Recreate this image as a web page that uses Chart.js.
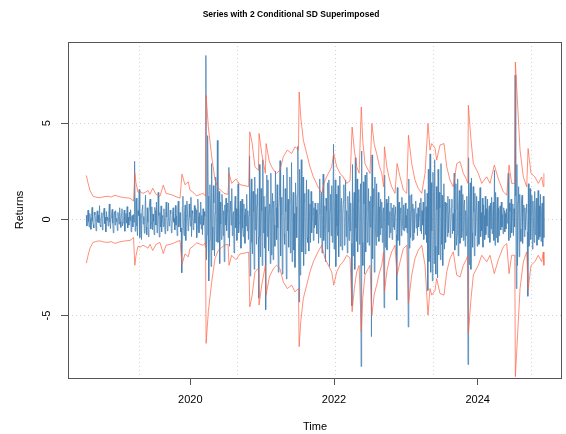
<!DOCTYPE html>
<html><head><meta charset="utf-8">
<script src="https://cdn.jsdelivr.net/npm/chart.js@4.4.1/dist/chart.umd.min.js"></script>
<style>html,body{margin:0;padding:0;background:#fff;}#wrap{width:566px;height:434px;}</style>
</head><body><div id="wrap"><canvas id="c" width="566" height="434"></canvas></div>
<script>
// ---- data ----
const chartTitle = 'Series with 2 Conditional SD Superimposed';
const xTitle = 'Time';
const yTitle = 'Returns';
const xTicks = [2020, 2022, 2024];
const yTicks = [-5, 0, 5];
const vGridYears = [2019.290, 2020.654, 2022.018, 2023.382, 2024.746];

// return series (sampled), evenly spaced in time from start to end
const returnsStart = 2018.553;
const returnsEnd = 2024.921;
const returns = [
 0.21,-0.35,0.10,0.48,-0.12,-0.40,0.30,0.05,-0.52,0.15,
 0.62,-0.08,-0.28,-0.45,0.38,0.22,0.05,-0.60,0.18,0.44,
 -0.15,0.22,-0.18,0.71,-0.30,-0.40,0.10,0.35,-0.55,0.02,
 0.33,0.58,-0.22,0.12,-0.66,0.40,-0.05,0.12,-0.35,0.26,
 0.80,-0.15,-0.48,0.08,0.27,0.52,-0.20,-0.70,0.18,0.40,
 -0.30,0.45,-0.12,0.05,-0.58,0.36,0.14,-0.25,0.60,-0.10,
 -0.42,0.28,0.55,-0.35,-0.18,0.20,0.48,-0.62,0.08,0.30,
 -0.20,0.66,-0.45,0.12,-0.30,0.38,-0.08,0.50,-0.65,0.15,
 0.20,-0.40,0.25,-0.15,
 3.02,
 -0.62,0.90,1.10,-0.35,-0.85,0.45,0.20,1.55,-0.95,0.10,
 0.30,-1.05,0.55,0.75,-0.25,0.15,-0.72,0.40,1.25,-0.40,
 -0.80,0.60,-0.15,-0.90,0.35,0.85,1.05,-0.50,-0.20,0.65,
 -0.55,0.28,-0.10,-0.80,0.62,0.45,-0.30,0.90,-0.70,-0.48,
 1.40,0.20,-0.92,0.35,-0.40,0.70,-0.65,0.15,0.20,-0.38,
 0.55,-0.12,-0.75,0.42,0.90,0.12,-0.60,-0.25,0.85,-0.35,
 -0.25,0.48,0.30,-0.70,-0.45,0.22,0.60,-0.15,0.05,-0.55,
 0.72,-0.30,0.18,-0.85,0.50,0.95,-0.40,-0.10,0.35,-0.65,
 -0.45,
 -2.78,
 0.65,1.20,-0.30,-0.85,0.40,0.75,-1.10,0.20,0.95,0.25,
 -0.60,-0.35,0.80,0.10,-0.35,1.15,-0.90,0.45,0.30,-0.55,
 -0.15,0.72,-0.20,0.60,0.48,-0.95,-0.40,1.05,0.15,-0.70,
 0.35,-0.25,0.90,-0.50,0.20,-0.80,0.55,-0.30,0.40,0.15,
 -1.45,
 8.52,
 -2.10,-0.80,4.35,1.20,-3.20,-1.10,1.80,0.60,-2.45,2.90,
 -0.40,-1.60,1.75,0.85,-1.90,0.30,2.20,-1.15,-0.50,
 4.10,
 -1.20,0.35,1.45,-2.30,0.90,-0.25,-1.05,1.30,0.60,-0.85,
 0.45,-2.20,0.75,-0.30,1.10,-0.60,0.40,0.85,-0.95,
 2.70,
 -1.40,0.50,0.95,-0.30,1.60,-0.85,0.20,0.40,-1.75,0.65,
 1.20,-0.45,0.55,-1.10,0.15,1.85,-0.70,-0.20,0.30,0.95,
 -1.50,0.60,1.05,-0.45,-0.90,0.80,0.25,-1.25,0.55,-0.35,
 1.30,-0.60,0.45,-1.05,0.20,
 3.30,
 -2.95,0.80,2.10,-1.20,-1.80,1.45,0.40,-2.60,2.20,-0.55,1.30,-1.30,0.70,1.60,-0.90,
 -4.10,
 2.85,-0.90,-1.95,1.60,0.45,-2.40,3.10,-0.70,1.20,-1.50,0.65,
 -4.70,
 1.25,2.30,-0.90,2.05,-1.65,0.35,0.80,-2.30,2.40,-1.85,
 0.50,1.35,-2.10,0.95,-0.30,-1.40,2.50,0.60,-1.05,1.80,
 -0.45,-2.75,0.60,1.20,3.05,-1.90,0.25,1.15,-2.85,0.70,
 2.30,-0.75,-1.30,1.60,0.40,-3.10,2.70,-0.60,1.05,-1.45,
 0.85,2.20,-1.75,-0.40,2.95,-2.20,0.55,1.40,-1.60,0.30,
 -2.50,1.90,0.65,-0.95,1.25,
 3.80,-1.20,-4.30,
 2.60,-2.90,1.20,3.10,-1.70,-0.60,2.20,-2.40,0.90,1.35,
 -1.80,0.40,2.05,-0.95,-1.20,1.55,-1.65,0.30,0.80,-1.20,
 1.45,-0.70,0.25,0.95,-1.10,0.60,-0.45,0.85,-0.30,0.50,
 -0.75,0.40,0.85,-1.25,0.30,2.10,-0.95,0.55,1.40,-1.75,
 0.20,2.35,-1.10,-0.40,0.70,-2.20,1.10,0.45,-1.55,1.90,
 -0.65,2.05,-2.45,0.50,1.30,-0.85,1.75,-1.20,0.35,
 3.90,
 -1.55,0.60,2.05,-2.45,1.30,-0.35,-0.85,1.75,-1.95,0.40,
 2.25,-1.40,0.75,1.10,-1.60,0.25,0.95,1.80,-1.35,-0.50,
 2.05,-0.90,0.45,-1.75,1.20,0.30,-1.10,1.45,-0.60,0.85,
 -1.25,
 -4.50,
 2.85,-1.90,0.60,1.40,-2.60,3.20,-0.45,-1.15,2.10,-1.70,0.90,1.55,-1.30,0.40,1.85,
 -7.65,
 3.55,-1.20,-2.40,1.95,0.80,-2.85,2.30,-1.70,0.45,2.45,-1.20,-0.60,1.60,-1.35,0.95,-0.40,1.20,
 -6.10,
 3.35,-2.05,0.70,1.60,-2.75,2.20,-0.50,-1.35,1.85,-0.90,0.30,1.40,-1.15,0.65,-0.80,1.05,-0.45,0.90,-1.20,0.35,0.60,
 -4.60,
 2.30,-1.45,0.50,1.05,-1.60,0.85,-0.30,1.20,-0.95,0.40,-0.70,0.85,0.15,-1.05,0.60,-0.40,0.75,-0.55,0.30,0.65,-0.80,
 -4.20,
 1.65,-1.10,0.55,0.90,-1.35,0.35,0.60,-0.85,1.15,-0.20,-0.55,0.75,-0.60,0.40,0.85,-0.45,0.20,-0.70,0.55,
 -5.60,
 2.10,-1.50,1.25,-0.95,0.40,1.30,-1.10,0.80,-1.05,0.55,
 -0.70,0.60,0.95,-0.45,0.30,-0.85,0.60,-0.40,0.20,0.85,
 -0.60,1.10,-0.75,0.45,-0.30,0.90,-1.05,0.55,1.55,-0.80,
 0.65,-1.20,1.35,
 -3.70,
 2.60,-2.20,0.80,3.40,-2.75,1.90,-0.60,-3.20,2.45,1.10,
 -2.30,3.10,-1.40,-2.85,1.70,0.50,-3.05,2.60,-1.85,1.40,
 0.60,-2.10,2.90,-1.30,1.25,-2.40,0.75,1.85,-1.55,0.90,
 -1.20,0.45,0.85,-0.90,1.20,-0.70,0.35,1.05,-0.95,-0.40,
 0.60,1.05,-0.75,0.30,-0.60,2.40,-1.60,0.50,1.85,-1.35,
 -0.80,2.10,-1.90,0.65,1.50,-1.25,0.40,1.75,-0.95,-0.55,
 1.30,-1.10,0.70,1.00,-1.40,0.45,-0.85,1.20,-0.30,
 -7.55,
 3.20,-2.35,0.90,1.90,-2.60,2.15,-0.70,-1.45,1.70,0.40,
 -1.90,1.35,-0.85,0.55,1.20,-1.40,0.25,0.95,-1.30,0.60,
 1.65,-0.90,0.35,-0.60,1.10,-1.45,0.75,0.20,-1.05,1.20,
 -0.80,0.55,-0.35,1.05,-0.95,0.40,0.70,-1.20,0.85,-0.50,
 1.15,-0.75,0.30,0.90,-1.10,
 2.55,
 -1.35,1.40,-0.95,0.35,1.15,-1.20,0.60,-0.85,0.45,0.70,
 -0.55,0.90,-0.40,0.25,-0.75,0.60,0.45,-0.65,0.30,-0.50,
 0.55,-0.20,0.40,
 2.40,
 -1.10,0.85,0.40,-0.95,1.05,-0.70,0.30,0.80,-0.85,0.55,-0.40,
 7.50,1.20,-3.60,
 2.85,-2.40,0.90,1.70,-1.95,1.30,-0.50,-1.15,0.90,1.25,-1.25,0.45,0.75,-0.90,0.60,-0.55,0.35,0.80,-0.65,
 -4.00,
 1.85,-1.40,0.60,1.60,-1.05,0.35,1.25,-1.55,0.95,-0.30,
 -1.20,1.45,-0.80,0.50,1.10,-1.35,0.25,1.50,-1.05,0.70,
 -0.90,1.30,-1.15,0.45,0.85,-1.40,1.20,-0.95
];

// 2 x conditional SD (band is drawn at +/- this value)
const sdYears = [
 2018.553,2018.576,2018.604,2018.646,2018.700,2018.743,2018.800,2018.855,2018.900,2018.952,
 2019.000,2019.049,2019.100,2019.161,2019.210,2019.228,2019.244,2019.272,2019.300,2019.342,
 2019.380,2019.411,2019.439,2019.477,2019.523,2019.578,2019.624,2019.662,2019.717,2019.760,
 2019.787,2019.857,2019.884,2019.926,2019.972,2019.996,2020.040,2020.089,2020.140,2020.181,
 2020.212,2020.220,2020.251,2020.298,2020.344,2020.390,2020.430,2020.469,2020.525,2020.539,
 2020.576,2020.636,2020.692,2020.761,2020.812,2020.828,2020.859,2020.900,2020.948,2020.957,
 2020.994,2021.045,2021.055,2021.100,2021.133,2021.170,2021.202,2021.248,2021.294,2021.350,
 2021.411,2021.457,2021.505,2021.515,2021.537,2021.573,2021.620,2021.666,2021.712,2021.777,
 2021.829,2021.875,2021.921,2021.968,2021.996,2022.038,2022.084,2022.129,2022.177,2022.223,
 2022.252,2022.283,2022.316,2022.350,2022.380,2022.400,2022.431,2022.470,2022.501,2022.527,
 2022.560,2022.594,2022.630,2022.664,2022.692,2022.702,2022.735,2022.770,2022.803,2022.849,
 2022.878,2022.919,2022.965,2023.012,2023.036,2023.081,2023.127,2023.173,2023.221,2023.267,
 2023.308,2023.336,2023.360,2023.406,2023.429,2023.475,2023.531,2023.569,2023.614,2023.660,
 2023.708,2023.754,2023.800,2023.840,2023.862,2023.870,2023.907,2023.939,2024.008,2024.056,
 2024.125,2024.171,2024.231,2024.287,2024.356,2024.404,2024.436,2024.473,2024.516,2024.524,
 2024.557,2024.589,2024.635,2024.682,2024.701,2024.742,2024.797,2024.843,2024.891,2024.913,
 2024.921
];
const twoSD = [
 2.28,1.90,1.50,1.20,1.14,1.12,1.18,1.20,1.16,1.25,
 1.19,1.15,1.12,1.10,0.95,2.39,1.90,1.40,1.45,1.35,
 1.42,1.50,1.30,1.62,1.30,1.20,1.78,1.35,1.30,1.25,
 1.20,1.10,2.35,1.80,1.95,1.52,1.40,1.22,1.30,1.35,
 1.20,6.45,4.80,3.25,2.04,1.61,1.50,1.35,1.30,2.39,
 1.87,2.10,1.80,1.75,1.70,4.55,4.00,2.73,2.55,4.46,
 3.42,2.39,3.94,3.00,2.73,2.50,2.39,2.56,3.25,3.60,
 3.42,3.77,3.60,6.62,5.32,4.12,3.42,2.73,2.21,1.69,
 1.35,2.04,2.39,2.73,3.42,2.73,2.39,2.20,1.87,2.00,
 4.80,3.60,2.73,2.40,5.84,4.12,2.90,2.60,2.39,4.98,
 3.90,3.42,2.80,2.39,1.69,3.77,2.73,2.10,1.69,1.35,
 2.90,2.21,1.52,1.35,4.37,2.90,2.04,1.60,1.35,2.39,
 4.98,3.60,3.94,3.70,3.08,3.86,3.94,2.73,2.04,1.69,
 2.90,3.00,2.39,2.10,1.87,5.93,4.12,2.90,2.39,1.87,
 2.21,1.87,2.82,2.10,1.43,1.26,2.82,1.87,1.87,8.18,
 5.84,3.60,2.21,1.69,3.68,2.39,2.20,1.87,2.20,1.70,
 2.39
];

// ---- build chart ----
const step = (returnsEnd - returnsStart) / (returns.length - 1);
const seriesPts = returns.map((v, i) => ({x: returnsStart + i * step, y: v}));
const upperPts = sdYears.map((t, i) => ({x: t, y: twoSD[i]}));
const lowerPts = sdYears.map((t, i) => ({x: t, y: -twoSD[i]}));

const FONT = "'Liberation Sans', Arial, Helvetica, sans-serif";

const rFrame = {
  id: 'rFrame',
  beforeDatasetsDraw(chart) {
    const {ctx, chartArea: a, scales: {x, y}} = chart;
    ctx.save();
    ctx.strokeStyle = '#d3d3d3';
    ctx.lineWidth = 1;
    ctx.setLineDash([1, 3]);
    vGridYears.forEach(t => {
      const px = Math.round(x.getPixelForValue(t)) + 0.5;
      ctx.beginPath(); ctx.moveTo(px, a.top); ctx.lineTo(px, a.bottom); ctx.stroke();
    });
    yTicks.forEach(v => {
      const py = Math.round(y.getPixelForValue(v)) + 0.5;
      ctx.beginPath(); ctx.moveTo(a.left, py); ctx.lineTo(a.right, py); ctx.stroke();
    });
    ctx.restore();
  },
  afterDraw(chart) {
    const {ctx, chartArea: a} = chart;
    ctx.save();
    ctx.strokeStyle = '#555';
    ctx.lineWidth = 1;
    ctx.strokeRect(Math.round(a.left) + 0.5, Math.round(a.top) + 0.5,
                   Math.round(a.right - a.left) - 1, Math.round(a.bottom - a.top));
    ctx.fillStyle = '#000';
    ctx.font = 'bold 8.5px ' + FONT;
    ctx.textAlign = 'center';
    ctx.textBaseline = 'middle';
    ctx.fillText(chartTitle, 291, 15);
    ctx.restore();
  }
};

new Chart(document.getElementById('c'), {
  type: 'line',
  data: {
    datasets: [
      {data: upperPts, borderColor: 'rgba(255,99,71,0.9)', borderWidth: 0.8, pointRadius: 0, tension: 0, order: 1},
      {data: lowerPts, borderColor: 'rgba(255,99,71,0.9)', borderWidth: 0.8, pointRadius: 0, tension: 0, order: 1},
      {data: seriesPts, borderColor: 'steelblue', borderWidth: 0.8, pointRadius: 0, tension: 0, order: 2}
    ]
  },
  options: {
    responsive: false,
    animation: false,
    parsing: false,
    normalized: true,
    events: [],
    layout: {padding: {left: 0, right: 4, top: 42, bottom: 0}},
    plugins: {legend: {display: false}, title: {display: false}, tooltip: {enabled: false}},
    scales: {
      x: {
        type: 'linear', min: 2018.298, max: 2025.173,
        afterBuildTicks: s => { s.ticks = xTicks.map(v => ({value: v})); },
        afterFit: s => { s.height = 56; },
        grid: {drawOnChartArea: false, drawTicks: true, tickLength: 7, tickColor: '#555', tickWidth: 1},
        border: {display: false},
        ticks: {padding: 8, color: '#000', font: {family: FONT, size: 11}, maxRotation: 0, autoSkip: false,
                callback: v => String(v)},
        title: {display: true, text: xTitle, color: '#000', font: {family: FONT, size: 11}, padding: {top: 0, bottom: 0}}
      },
      y: {
        type: 'linear', min: -8.25, max: 9.22,
        afterBuildTicks: s => { s.ticks = yTicks.map(v => ({value: v})); },
        afterFit: s => { s.width = 68; },
        grid: {drawOnChartArea: false, drawTicks: true, tickLength: 7, tickColor: '#555', tickWidth: 1},
        border: {display: false},
        ticks: {padding: 9, color: '#000', font: {family: FONT, size: 11}, minRotation: 90, maxRotation: 90,
                crossAlign: 'center', autoSkip: false, callback: v => String(v)},
        title: {display: true, text: yTitle, color: '#000', font: {family: FONT, size: 11}, padding: {top: 13, bottom: 0}}
      }
    }
  },
  plugins: [rFrame]
});
</script></body></html>
